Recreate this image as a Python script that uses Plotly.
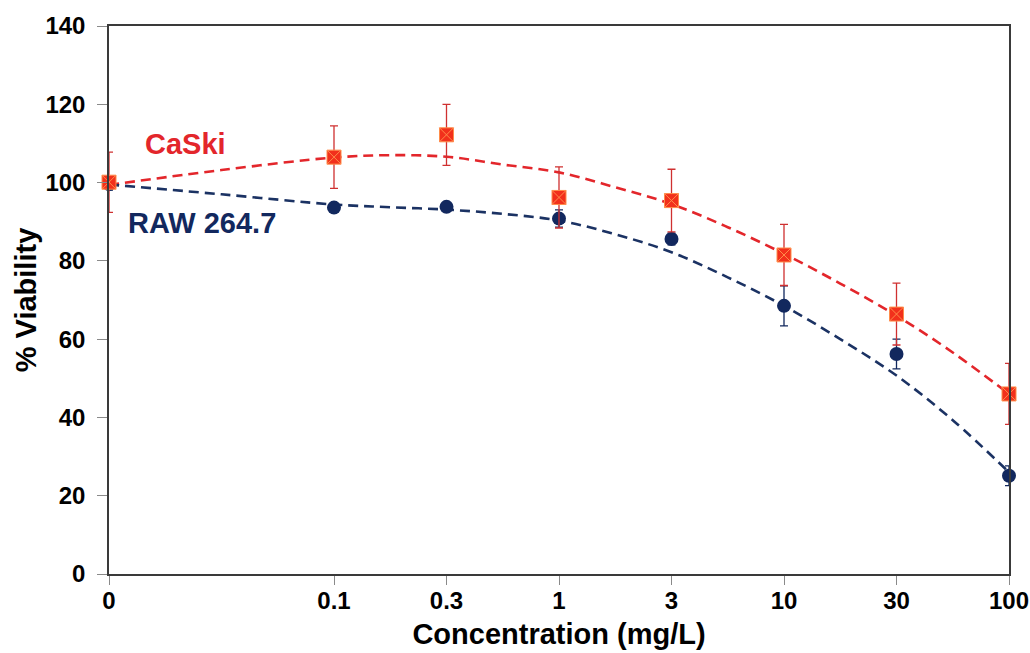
import plotly.graph_objects as go

# ---- data ----
concentrations = ["0", "0.1", "0.3", "1", "3", "10", "30", "100"]
caski_mean = [100.1, 106.5, 112.2, 96.2, 95.4, 81.5, 66.4, 46.0]
caski_err = [7.7, 8.0, 7.8, 7.8, 8.0, 7.8, 7.9, 7.8]
raw_mean = [99.6, 93.6, 93.8, 90.8, 85.6, 68.5, 56.2, 25.1]
raw_err = [1.5, 1.2, 1.0, 2.2, 1.5, 5.1, 3.8, 2.5]

# fitted (dashed) curves, sampled along the axis in category-slot units
fit_slot = [0, 1, 2, 2.5, 3, 3.5, 4, 4.5, 5, 5.5, 6, 6.5, 7, 7.5, 8]
caski_fit = [99.4, 103.2, 106.4, 107.0, 106.6, 104.6, 102.6, 98.8, 94.5, 88.6, 81.8, 74.2, 66.0, 56.6, 46.0]
raw_fit = [99.5, 97.0, 94.4, 93.7, 93.1, 92.0, 90.3, 86.8, 82.2, 75.8, 68.5, 60.0, 50.7, 39.3, 26.0]

y_ticks = [0, 20, 40, 60, 80, 100, 120, 140]

# axis slot of each concentration: "0" sits two slots left of 0.1
slots = [0] + [i + 1 for i in range(1, len(concentrations))]

RED = "#e3262b"
NAVY = "#12285e"
FONT = "Arial, Liberation Sans, sans-serif"

fig = go.Figure()

fig.add_trace(go.Scatter(
    x=fit_slot, y=caski_fit, mode="lines", line=dict(color=RED, width=2.6, dash="10px,6px", shape="spline"),
    hoverinfo="skip", showlegend=False))
fig.add_trace(go.Scatter(
    x=fit_slot, y=raw_fit, mode="lines", line=dict(color="#1b3263", width=2.6, dash="10px,6px", shape="spline"),
    hoverinfo="skip", showlegend=False))

fig.add_trace(go.Scatter(
    x=slots, y=raw_mean, mode="markers", name="RAW 264.7",
    marker=dict(symbol="circle", size=14, color=NAVY),
    error_y=dict(type="data", array=raw_err, color=NAVY, thickness=1.3, width=4),
    cliponaxis=False, showlegend=False))

fig.add_trace(go.Scatter(
    x=slots, y=caski_mean, mode="markers", name="CaSki",
    marker=dict(symbol="square-x", size=14, color="#f2301c", line=dict(color="#ff8c4a", width=1)),
    error_y=dict(type="data", array=caski_err, color="#cf3030", thickness=1.3, width=4),
    cliponaxis=False, showlegend=False))

fig.add_annotation(x=0.684, y=109.9, text="CaSki", showarrow=False, xref="x", yref="y",
                   font=dict(family=FONT, size=29, color=RED, weight="bold"))
fig.add_annotation(x=0.83, y=89.8, text="RAW 264.7", showarrow=False, xref="x", yref="y",
                   font=dict(family=FONT, size=29, color=NAVY, weight="bold"))

fig.update_layout(
    width=1030, height=653,
    margin=dict(l=109, r=21, t=26, b=79),
    paper_bgcolor="white", plot_bgcolor="white",
    font=dict(family=FONT, color="black"),
)

fig.update_xaxes(
    range=[0, 8], tickmode="array", tickvals=slots, ticktext=concentrations,
    automargin=False, ticklabeloverflow="allow",
    showgrid=False, zeroline=False,
    showline=True, linecolor="#3a3a3a", linewidth=1.5, mirror=True,
    ticks="outside", ticklen=9, tickcolor="#8a8a8a", tickwidth=1,
    ticklabelstandoff=-5,
    tickfont=dict(family=FONT, size=24, color="black", weight="bold"),
    title=dict(text="Concentration (mg/L)", font=dict(family=FONT, size=29, color="black", weight="bold"), standoff=11),
)
fig.update_yaxes(
    range=[0, 140], tickmode="array", tickvals=y_ticks,
    automargin=False, ticklabeloverflow="allow",
    showgrid=False, zeroline=False,
    showline=True, linecolor="#3a3a3a", linewidth=1.5, mirror=True,
    ticks="outside", ticklen=10, tickcolor="#8a8a8a", tickwidth=1,
    ticklabelstandoff=7,
    tickfont=dict(family=FONT, size=24, color="black", weight="bold"),
    title=dict(text="% Viability", font=dict(family=FONT, size=29, color="black", weight="bold"), standoff=0),
)

fig.write_html("out.html", config={"displayModeBar": False},
               post_script="document.body.style.margin='0';document.body.style.overflow='hidden';")
